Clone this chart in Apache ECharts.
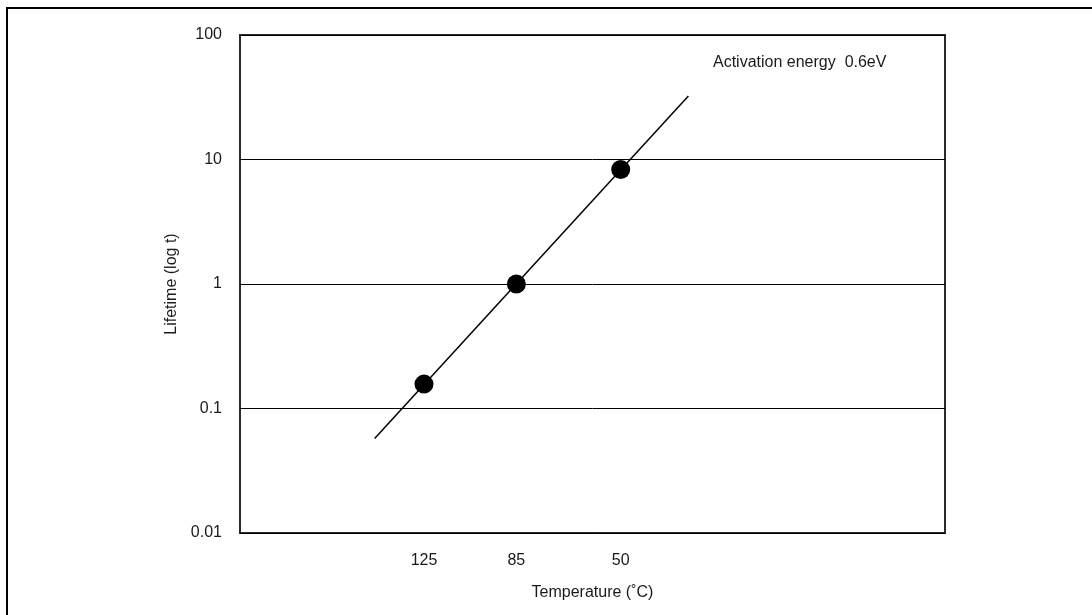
<!DOCTYPE html>
<html>
<head>
<meta charset="utf-8">
<script src="https://cdn.jsdelivr.net/npm/echarts@6/dist/echarts.min.js"></script>
<style>
  html, body { margin: 0; padding: 0; background: #fff; }
  #chart { width: 1092px; height: 615px; }
</style>
</head>
<body>
<div id="chart"></div>
<script>
// x positions are on an arbitrary 0-100 scale across the plot (Arrhenius-like spacing)
var tempLabels = ['125', '85', '50']
var tempPos = [26.1, 39.2, 54.0]
var lifetimes = [0.157, 1, 8.3]
// fitted line through the points
var fitX = [19.1, 63.6]
var fitY = [0.0573, 32.4]
var yTicks = [0.01, 0.1, 1, 10, 100]

var font = 'Liberation Sans, Arial, sans-serif'
var chart = echarts.init(document.getElementById('chart'))

chart.setOption({
  animation: false,
  backgroundColor: '#fff',
  textStyle: { fontFamily: font },
  graphic: [
    {
      type: 'rect',
      shape: { x: 7, y: 8, width: 1100, height: 620 },
      style: { fill: 'none', stroke: '#000', lineWidth: 2 },
      silent: true
    },
    {
      type: 'text',
      left: 713,
      top: 55,
      style: {
        text: 'Activation energy  0.6eV',
        fill: '#1a1a1a',
        font: '16px ' + font
      }
    }
  ],
  grid: {
    left: 240,
    top: 35,
    width: 705,
    height: 498,
    show: true,
    borderColor: '#2b2b2b',
    borderWidth: 2,
    backgroundColor: 'transparent'
  },
  xAxis: {
    type: 'value',
    min: 0,
    max: 100,
    name: 'Temperature (˚C)',
    nameLocation: 'middle',
    nameGap: 52,
    nameTextStyle: { fontSize: 16, color: '#1a1a1a' },
    axisLine: { show: false },
    axisTick: { show: false },
    splitLine: { show: false },
    axisLabel: {
      customValues: tempPos,
      fontSize: 16,
      color: '#1a1a1a',
      margin: 20,
      formatter: function (v) {
        var i = tempPos.indexOf(v)
        return i >= 0 ? tempLabels[i] : ''
      }
    }
  },
  yAxis: {
    type: 'log',
    logBase: 10,
    min: yTicks[0],
    max: yTicks[yTicks.length - 1],
    name: 'Lifetime (log t)',
    nameLocation: 'middle',
    nameGap: 56,
    nameTextStyle: { fontSize: 16, color: '#1a1a1a' },
    axisLine: { show: false },
    axisTick: { show: false },
    splitLine: { show: true, lineStyle: { color: '#000', width: 1 } },
    axisLabel: {
      fontSize: 16,
      color: '#1a1a1a',
      margin: 18,
      formatter: function (v) {
        var best = yTicks[0]
        yTicks.forEach(function (t) {
          if (Math.abs(Math.log10(t) - Math.log10(v)) < Math.abs(Math.log10(best) - Math.log10(v))) best = t
        })
        return String(best)
      }
    }
  },
  series: [
    {
      type: 'line',
      data: fitX.map(function (x, i) { return [x, fitY[i]] }),
      symbol: 'none',
      lineStyle: { color: '#000', width: 1.5 },
      z: 2
    },
    {
      type: 'scatter',
      data: tempPos.map(function (x, i) { return [x, lifetimes[i]] }),
      symbol: 'circle',
      symbolSize: 19,
      itemStyle: { color: '#000', opacity: 1 },
      z: 3
    }
  ]
})
</script>
</body>
</html>
